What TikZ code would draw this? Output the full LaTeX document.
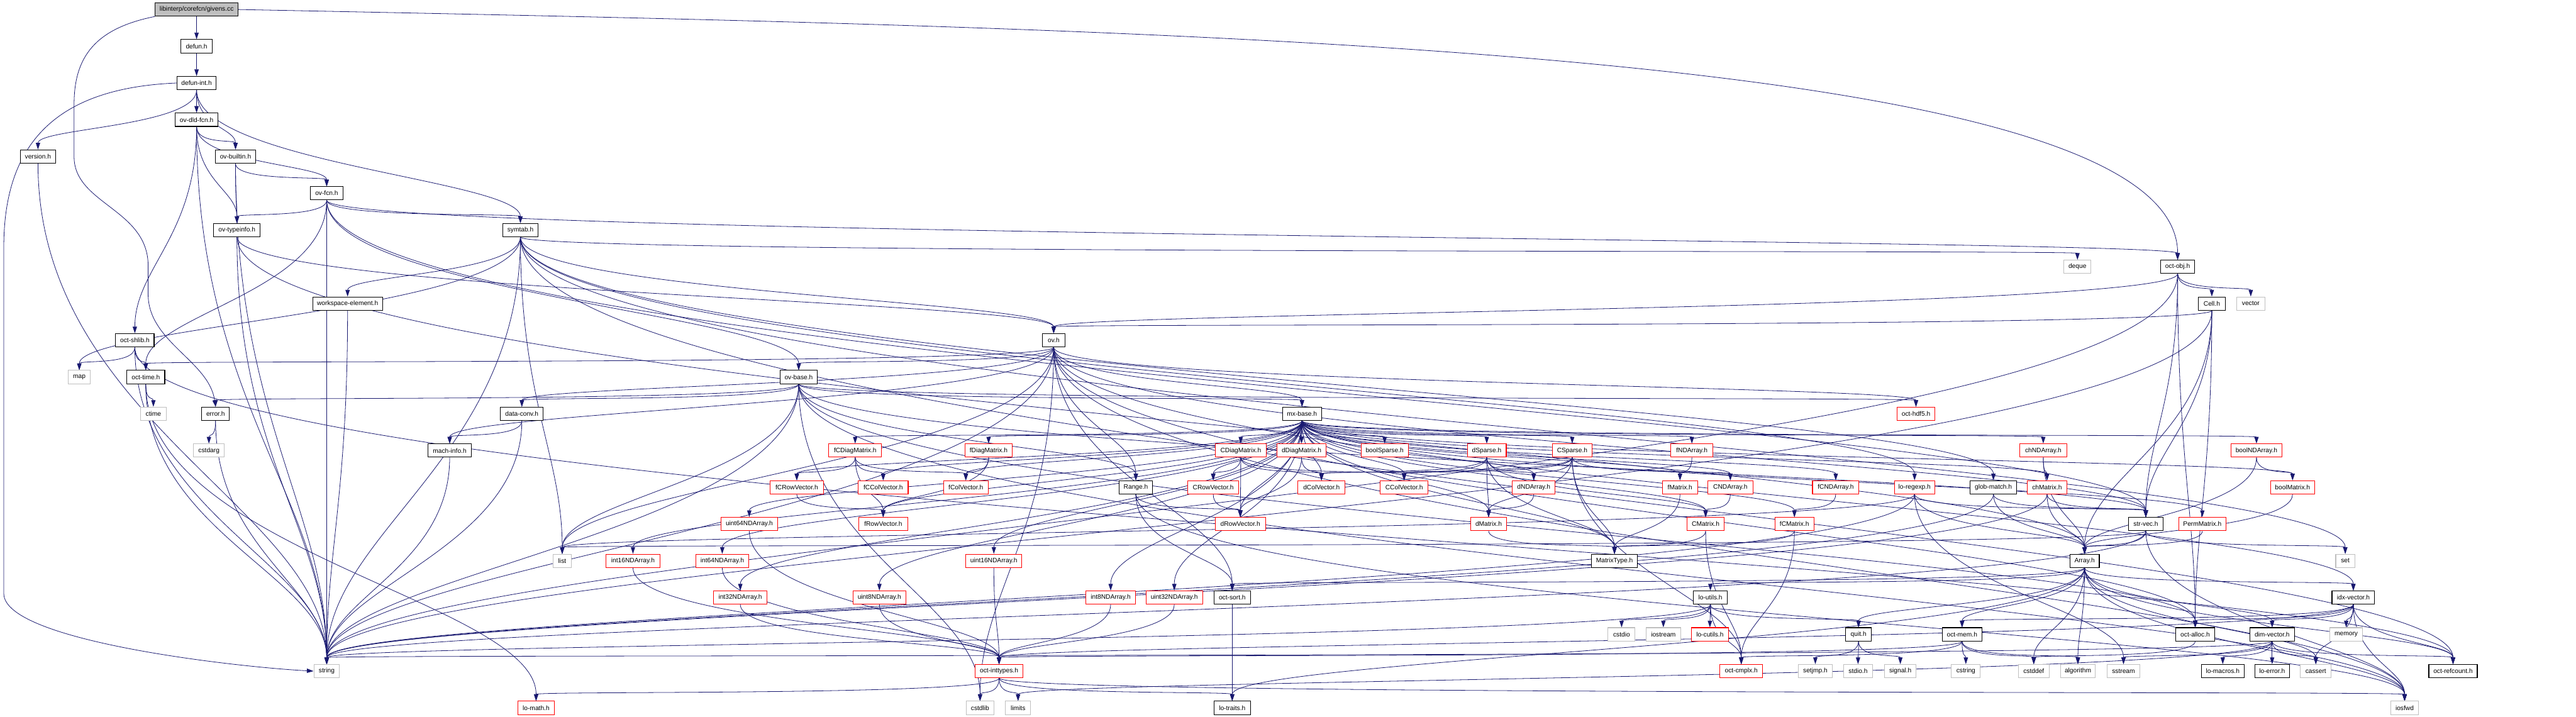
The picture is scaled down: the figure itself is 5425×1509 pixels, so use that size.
\documentclass[tikz,border=0pt]{standalone}
\usepackage{fontspec}
\setmainfont{Liberation Sans}
\usetikzlibrary{arrows.meta,calc}
\definecolor{edgecol}{HTML}{191970}
\definecolor{extgray}{HTML}{BFBFBF}
\definecolor{rootfill}{HTML}{BFBFBF}
\pgfdeclarelayer{bg}
\pgfsetlayers{bg,main}
\newcommand\nd[6]{\node[#6, minimum width=#4*0.01cm] (#1) at (#2,{20+77.4*#3}) {#5};}
\newcommand\lk[2]{\foreach \tg in {#2} {\draw[lnk] let \p1=(#1.south), \p2=(\tg.north), \n1={0.5*(\y1-\y2)+4pt}, \n2={0.3*(\y1-\y2)+2pt} in (\p1) .. controls +(0,-\n1) and +(0,\n2) .. (\p2);}}
\begin{document}
\begin{tikzpicture}[x=0.01cm,y=-0.01cm,
 box/.style={draw=black, line width=0.4pt, fill=white, inner sep=0pt, minimum height=0.28cm, font=\fontsize{3.85}{4.6}\selectfont, text=black},
 blk/.style={box},
 trunc/.style={box, draw=red},
 ext/.style={box, draw=extgray},
 root/.style={box, fill=rootfill},
 lnk/.style={draw=edgecol, line width=0.3pt, -{Triangle[length=0.14cm,width=0.09cm]}}]
\useasboundingbox (0,0) rectangle (5425,1509);
% row 0-6
\nd{givens}{414}{0}{174}{libinterp/corefcn/givens.cc}{root}
\nd{defun}{414}{1}{66}{defun.h}{blk}
\nd{defint}{414}{2}{82}{defun-int.h}{blk}
\nd{ovdld}{414}{3}{90}{ov-dld-fcn.h}{blk}
\nd{version}{80}{4}{75}{version.h}{blk}
\nd{ovbuiltin}{496}{4}{85}{ov-builtin.h}{blk}
\nd{ovfcn}{688}{5}{69}{ov-fcn.h}{blk}
\nd{ovtype}{499}{6}{98}{ov-typeinfo.h}{blk}
\nd{symtab}{1096}{6}{75}{symtab.h}{blk}
% row 7-11
\nd{deque}{4375}{7}{57}{deque}{ext}
\nd{octobj}{4586}{7}{72}{oct-obj.h}{blk}
\nd{wselem}{732}{8}{147}{workspace-element.h}{blk}
\nd{cell}{4658}{8}{56}{Cell.h}{blk}
\nd{vector}{4740}{8}{59}{vector}{ext}
\nd{octshlib}{284}{9}{81}{oct-shlib.h}{blk}
\nd{ovh}{2219}{9}{47}{ov.h}{blk}
\nd{map}{167}{10}{47}{map}{ext}
\nd{octtime}{307}{10}{80}{oct-time.h}{blk}
\nd{ovbase}{1682}{10}{79}{ov-base.h}{blk}
\nd{ctime}{323}{11}{54}{ctime}{ext}
\nd{errh}{454}{11}{58}{error.h}{blk}
\nd{dataconv}{1099}{11}{90}{data-conv.h}{blk}
\nd{mxbase}{2742}{11}{82}{mx-base.h}{blk}
\nd{hdf}{4035}{11}{80}{oct-hdf5.h}{trunc}
% row 12
\nd{cstdarg}{440}{12}{65}{cstdarg}{ext}
\nd{machinfo}{947}{12}{91}{mach-info.h}{blk}
\nd{fCDiag}{1801}{12}{111}{fCDiagMatrix.h}{trunc}
\nd{fDiag}{2082}{12}{99}{fDiagMatrix.h}{trunc}
\nd{CDiag}{2613}{12}{107}{CDiagMatrix.h}{trunc}
\nd{dDiag}{2741}{12}{103}{dDiagMatrix.h}{trunc}
\nd{boolSparse}{2916}{12}{99}{boolSparse.h}{trunc}
\nd{dSparse}{3131}{12}{82}{dSparse.h}{trunc}
\nd{CSparse}{3311}{12}{84}{CSparse.h}{trunc}
\nd{fNDA}{3563}{12}{88}{fNDArray.h}{trunc}
\nd{chNDA}{4303}{12}{99}{chNDArray.h}{trunc}
\nd{boolNDA}{4752}{12}{108}{boolNDArray.h}{trunc}
% row 13
\nd{fCRV}{1678}{13}{112}{fCRowVector.h}{trunc}
\nd{fCCV}{1860}{13}{105}{fCColVector.h}{trunc}
\nd{fCV}{2034}{13}{94}{fColVector.h}{trunc}
\nd{Range}{2392}{13}{71}{Range.h}{blk}
\nd{CRV}{2555}{13}{108}{CRowVector.h}{trunc}
\nd{dCV}{2783}{13}{99}{dColVector.h}{trunc}
\nd{CCV}{2957}{13}{101}{CColVector.h}{trunc}
\nd{dNDA}{3230}{13}{90}{dNDArray.h}{trunc}
\nd{fMat}{3538}{13}{74}{fMatrix.h}{trunc}
\nd{CNDA}{3644}{13}{95}{CNDArray.h}{trunc}
\nd{fCNDA}{3866}{13}{98}{fCNDArray.h}{trunc}
\nd{loregexp}{4032}{13}{85}{lo-regexp.h}{trunc}
\nd{glob}{4198}{13}{98}{glob-match.h}{blk}
\nd{chMat}{4311}{13}{83}{chMatrix.h}{trunc}
\nd{boolMat}{4828}{13}{93}{boolMatrix.h}{trunc}
% row 14
\nd{u64}{1578}{14}{119}{uint64NDArray.h}{trunc}
\nd{fRV}{1860}{14}{103}{fRowVector.h}{trunc}
\nd{dRV}{2612}{14}{106}{dRowVector.h}{trunc}
\nd{dMat}{3135}{14}{76}{dMatrix.h}{trunc}
\nd{CMat}{3592}{14}{78}{CMatrix.h}{trunc}
\nd{fCMat}{3779}{14}{82}{fCMatrix.h}{trunc}
\nd{strvec}{4519}{14}{72}{str-vec.h}{blk}
\nd{Perm}{4638}{14}{100}{PermMatrix.h}{trunc}
% row 15
\nd{list}{1184}{15}{39}{list}{ext}
\nd{i16}{1333}{15}{113}{int16NDArray.h}{trunc}
\nd{i64}{1521}{15}{112}{int64NDArray.h}{trunc}
\nd{u16}{2093}{15}{118}{uint16NDArray.h}{trunc}
\nd{MType}{3400}{15}{97}{MatrixType.h}{blk}
\nd{Array}{4390}{15}{62}{Array.h}{blk}
\nd{set}{4939}{15}{40}{set}{ext}
% row 16
\nd{i32}{1559}{16}{112}{int32NDArray.h}{trunc}
\nd{u8}{1852}{16}{111}{uint8NDArray.h}{trunc}
\nd{i8}{2339}{16}{105}{int8NDArray.h}{trunc}
\nd{u32}{2473}{16}{119}{uint32NDArray.h}{trunc}
\nd{osort}{2595}{16}{77}{oct-sort.h}{blk}
\nd{loutils}{3602}{16}{71}{lo-utils.h}{blk}
\nd{idx}{4956}{16}{90}{idx-vector.h}{blk}
% row 17
\nd{cstdio}{3415}{17}{57}{cstdio}{ext}
\nd{iostream}{3503}{17}{72}{iostream}{ext}
\nd{locutils}{3601}{17}{79}{lo-cutils.h}{trunc}
\nd{quit}{3914}{17}{54}{quit.h}{blk}
\nd{octmem}{4132}{17}{83}{oct-mem.h}{blk}
\nd{octalloc}{4623}{17}{82}{oct-alloc.h}{blk}
\nd{dimv}{4785}{17}{94}{dim-vector.h}{blk}
\nd{memory}{4941}{17}{68}{memory}{ext}
% row 18
\nd{string}{688}{18}{54}{string}{ext}
\nd{inttypes}{2104}{18}{101}{oct-inttypes.h}{trunc}
\nd{cmplx}{3667}{18}{90}{oct-cmplx.h}{trunc}
\nd{setjmp}{3823}{18}{72}{setjmp.h}{ext}
\nd{stdio}{3913}{18}{61}{stdio.h}{ext}
\nd{signal}{4002}{18}{66}{signal.h}{ext}
\nd{cstring}{4140}{18}{61}{cstring}{ext}
\nd{cstddef}{4283}{18}{65}{cstddef}{ext}
\nd{algorithm}{4376}{18}{73}{algorithm}{ext}
\nd{sstream}{4472}{18}{69}{sstream}{ext}
\nd{lomacros}{4681}{18}{90}{lo-macros.h}{blk}
\nd{loerror}{4785}{18}{73}{lo-error.h}{blk}
\nd{cassert}{4877}{18}{65}{cassert}{ext}
\nd{refcount}{5166}{18}{102}{oct-refcount.h}{blk}
% row 19
\nd{lomath}{1129}{19}{77}{lo-math.h}{trunc}
\nd{cstdlib}{2064}{19}{59}{cstdlib}{ext}
\nd{limits}{2144}{19}{53}{limits}{ext}
\nd{lotraits}{2595}{19}{77}{lo-traits.h}{blk}
\nd{iosfwd}{5064}{19}{59}{iosfwd}{ext}

\begin{pgfonlayer}{bg}
% hand-routed connectors
\draw[lnk] (givens.east) .. controls (2500,60) and (4586,100) .. (octobj.north);
\draw[lnk] (givens.south west) .. controls (200,60) and (156,120) .. (156,220) -- (156,330) .. controls (156,430) and (312,440) .. (312,560) -- (312,620) .. controls (312,720) and (440,760) .. (errh.north);
\draw[lnk] (defint.west) .. controls (120,185) and (8,300) .. (8,520) -- (8,1250) .. controls (8,1350) and (500,1405) .. (string.west);
\lk{givens}{defun}
\lk{defun}{defint}
\lk{defint}{version,ovbuiltin,ovdld,symtab}
\lk{version}{string}
\lk{ovdld}{string,octshlib,ovfcn,ovbuiltin,ovtype}
\lk{ovbuiltin}{string,ovfcn,ovtype}
\lk{ovfcn}{string,octtime,strvec,octobj,ovbase,ovtype,symtab}
\lk{ovtype}{string,Array,ovh}
\lk{symtab}{deque,list,map,set,string,glob,loregexp,refcount,ovh,wselem}
\lk{wselem}{string}
\lk{octshlib}{map,octtime,string,refcount}
\lk{octtime}{ctime,string,lomath}
\lk{errh}{cstdarg,string}
\lk{dataconv}{machinfo,string}
\lk{machinfo}{string}
\lk{ovh}{cstdlib,iosfwd,string,list,Range,dataconv,idx,machinfo,mxbase,octalloc,octtime,strvec,hdf,osort,ovbase}
\lk{ovbase}{cstdlib,iosfwd,list,string,Range,dataconv,mxbase,strvec,errh,hdf,octalloc}
\lk{cell}{string,Array,octalloc,strvec,ovh}
\lk{octobj}{string,vector,octalloc,strvec,cell,ovh}
\lk{mxbase}{MType,boolMat,chMat,dMat,CMat,fMat,fCMat,dCV,CCV,fCV,fCCV,dRV,CRV,fRV,fCRV,dDiag,CDiag,fDiag,fCDiag,Perm,boolNDA,chNDA,dNDA,CNDA,fNDA,fCNDA,i8,i16,i32,i64,u8,u16,u32,u64,boolSparse,dSparse,CSparse}
\lk{fCDiag}{fCRV,fRV,fCCV,fCV}
\lk{fDiag}{fRV,fCV}
\lk{CDiag}{CRV,dRV,CCV,dCV}
\lk{dDiag}{dRV,dCV}
\lk{dSparse}{dCV,CCV,dMat,MType,CMat,dNDA}
\lk{CSparse}{dCV,CCV,dNDA,cmplx,MType,CNDA,dMat}
\lk{fNDA}{fMat}
\lk{chNDA}{chMat,Array}
\lk{boolNDA}{boolMat,Array}
\lk{fCRV}{fRV}
\lk{CRV}{dRV}
\lk{dNDA}{dMat}
\lk{fMat}{MType}
\lk{CNDA}{CMat}
\lk{fCNDA}{fCMat}
\lk{dMat}{MType}
\lk{CMat}{MType,cmplx}
\lk{fCMat}{MType,cmplx}
\lk{Range}{osort,iosfwd,dRV}
\lk{u64}{inttypes}
\lk{i16}{inttypes}
\lk{i64}{inttypes}
\lk{u16}{inttypes}
\lk{i32}{inttypes}
\lk{u8}{inttypes}
\lk{i8}{inttypes}
\lk{u32}{inttypes}
\lk{inttypes}{cstdlib,limits,lotraits,lomath,iosfwd}
\lk{osort}{lotraits}
\lk{loutils}{cstdio,iostream,locutils,cmplx,quit,string}
\lk{quit}{setjmp,stdio,signal}
\lk{Array}{cassert,cstddef,algorithm,iosfwd,dimv,idx,lotraits,loutils,osort,quit,octmem,refcount}
\lk{idx}{cassert,memory,iosfwd,dimv,octalloc,octmem,refcount,inttypes}
\lk{octmem}{cstddef,cstring,algorithm,cmplx,inttypes}
\lk{octalloc}{cstddef}
\lk{dimv}{cassert,sstream,loerror,lomacros,refcount,limits,string}
\lk{strvec}{iosfwd,list,set,string,Array}
\lk{Perm}{Array}
\lk{loregexp}{list,sstream,string,Array,strvec}
\lk{glob}{Array,strvec,string}
\lk{chMat}{Array,strvec,string}
\lk{boolMat}{Array}
\end{pgfonlayer}
\end{tikzpicture}
\end{document}
